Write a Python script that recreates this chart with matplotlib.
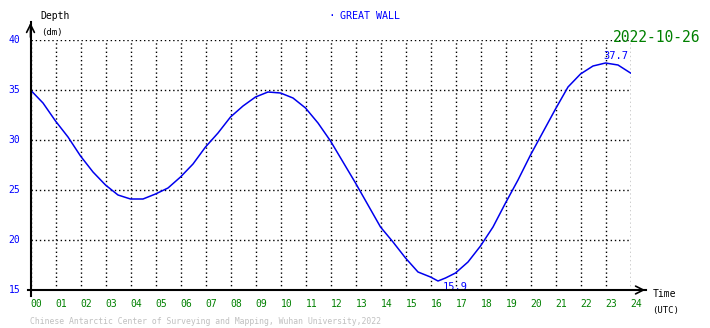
import matplotlib.pyplot as plt
import numpy as np

# tide level at Great Wall station, read every half hour (dm)
hours = [0, 0.5, 1, 1.5, 2, 2.5, 3, 3.5, 4, 4.5, 5, 5.5, 6, 6.5, 7, 7.5, 8, 8.5,
         9, 9.5, 10, 10.5, 11, 11.5, 12, 12.5, 13, 13.5, 14, 14.5, 15, 15.5, 16,
         16.3, 16.6, 17, 17.5, 18, 18.5, 19, 19.5, 20, 20.5, 21, 21.5, 22, 22.5,
         23, 23.5, 24]
depth = [35.0, 33.7, 31.9, 30.3, 28.4, 26.8, 25.5, 24.5, 24.1, 24.1, 24.6, 25.2,
         26.3, 27.6, 29.3, 30.7, 32.3, 33.4, 34.3, 34.8, 34.7, 34.2, 33.2, 31.7,
         29.9, 27.8, 25.7, 23.5, 21.3, 19.8, 18.2, 16.8, 16.3, 15.9, 16.2, 16.7,
         17.8, 19.4, 21.3, 23.7, 26.0, 28.5, 30.8, 33.1, 35.3, 36.6, 37.4, 37.7,
         37.5, 36.7]
xlabels = ["%02d" % h for h in range(25)]
yticks = [15, 20, 25, 30, 35, 40]

mono = "DejaVu Sans Mono"
W, H = 710, 328

fig = plt.figure(figsize=(7.1, 3.28), dpi=100)
ax = fig.add_axes([30.5 / W, 38 / H, 600 / W, 250 / H])
ax.plot(hours, depth, color="#0000ee", lw=1.1)
ax.set_xlim(0, 24)
ax.set_ylim(15, 40)

ax.set_xticks(range(25))
ax.set_yticks(yticks)
ax.set_xticklabels([])
ax.set_yticklabels([])
ax.tick_params(length=0)
ax.grid(True, color="black", linestyle=(0, (1, 2)), lw=1)
for s in ax.spines.values():
    s.set_visible(False)

for i, lab in enumerate(xlabels):
    ax.text(i, 15 - 0.9, lab, ha="left", va="top",
            color="green", fontsize=7, family=mono)
for y in yticks:
    ax.text(-0.4, y, str(y), ha="right", va="center", color="blue",
            fontsize=7, family=mono)

# axes with arrow heads
fig.add_artist(plt.Line2D([30.5 / W, 30.5 / W], [(H - 296) / H, (H - 22) / H],
                          color="black", lw=1.5))
fig.add_artist(plt.Line2D([28 / W, 646 / W], [(H - 290) / H, (H - 290) / H],
                          color="black", lw=1.5))
ax.annotate("", xy=(30.5 / W, (H - 20) / H), xytext=(30.5 / W, (H - 40) / H),
            xycoords="figure fraction",
            arrowprops=dict(arrowstyle="->", color="black", lw=1.2,
                            mutation_scale=14))
ax.annotate("", xy=(648 / W, (H - 290) / H), xytext=(620 / W, (H - 290) / H),
            xycoords="figure fraction",
            arrowprops=dict(arrowstyle="->", color="black", lw=1.2,
                            mutation_scale=14))

# max / min labels
imax = int(np.argmax(depth))
imin = int(np.argmin(depth))
ax.text(hours[imax] - 0.1, depth[imax] + 0.2, "%.1f" % depth[imax], color="blue",
        fontsize=7.5, family=mono, ha="left", va="bottom")
ax.text(hours[imin] + 0.2, depth[imin] - 0.1, "%.1f" % depth[imin], color="blue",
        fontsize=7.5, family=mono, ha="left", va="top")

fig.text(40 / W, 1 - 16 / H, "Depth", fontsize=7, family=mono, va="center")
fig.text(41 / W, 1 - 33 / H, "(dm)", fontsize=6.5, family=mono, va="center")
fig.text(653 / W, 1 - 294 / H, "Time", fontsize=7, family=mono, va="center")
fig.text(652 / W, 1 - 310 / H, "(UTC)", fontsize=6.5, family=mono, va="center")
fig.text(328 / W, 1 - 16 / H, "\u00b7", color="blue", fontsize=8, family=mono,
         va="center")
fig.text(340 / W, 1 - 16 / H, "GREAT WALL", color="blue", fontsize=7.2,
         family=mono, va="center")
fig.text(700 / W, 1 - 37 / H, "2022-10-26", color="green", fontsize=10.5,
         family=mono, va="center", ha="right")
fig.text(30 / W, 1 - 321 / H,
         "Chinese Antarctic Center of Surveying and Mapping, Wuhan University,2022",
         color="#c0c0c0", fontsize=5.9, family=mono, va="center")

fig.savefig("out.png", dpi=100)
